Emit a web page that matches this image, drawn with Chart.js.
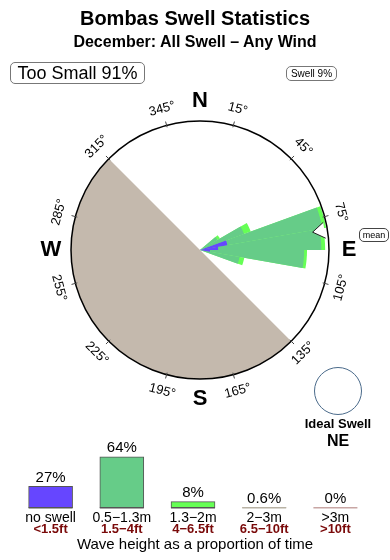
<!DOCTYPE html>
<html>
<head>
<meta charset="utf-8">
<title>Bombas Swell Statistics</title>
<script src="https://cdn.jsdelivr.net/npm/chart.js@4.4.0/dist/chart.umd.min.js"></script>
<style>
body { margin: 0; background: #fff; font-family: "Liberation Sans", Arial, sans-serif; color: #000; }
#wrap { position: relative; width: 390px; height: 560px; overflow: hidden; }
canvas { position: absolute; left: 0; }
.txt { position: absolute; left: 0; width: 390px; text-align: center; white-space: nowrap; }
.title { top: 8px; font-size: 20px; line-height: 20px; font-weight: bold; }
.sub { top: 34px; font-size: 16px; line-height: 16px; font-weight: bold; }
.box { position: absolute; border: 1px solid #777; border-radius: 5px; text-align: center; white-space: nowrap; box-sizing: border-box; }
#small { left: 10px; top: 62px; width: 135px; height: 22px; font-size: 18px; line-height: 20px; }
#swell { left: 286px; top: 66px; width: 51px; height: 15px; font-size: 10px; line-height: 13px; }
#mean { left: 359px; top: 228px; width: 30px; height: 14px; font-size: 9px; line-height: 12px; border-color: #444; }
#ideal { position: absolute; left: 314px; top: 367px; width: 48px; height: 48px; border: 1px solid #4a6a8a; border-radius: 50%; box-sizing: border-box; }
.ideal1 { left: 288px; width: 100px; top: 417px; font-size: 13px; line-height: 14px; font-weight: bold; }
.ideal2 { left: 288px; width: 100px; top: 433px; font-size: 16px; line-height: 16px; font-weight: bold; }
.foot { top: 536px; font-size: 15px; line-height: 16px; }
</style>
</head>
<body>
<div id="wrap">
  <canvas id="rose" width="390" height="560"></canvas>
  <canvas id="bars" width="390" height="124" style="top:436px"></canvas>
  <div class="txt title">Bombas Swell Statistics</div>
  <div class="txt sub">December: All Swell – Any Wind</div>
  <div class="box" id="small">Too Small 91%</div>
  <div class="box" id="swell">Swell 9%</div>
  <div class="box" id="mean">mean</div>
  <div id="ideal"></div>
  <div class="txt ideal1">Ideal Swell</div>
  <div class="txt ideal2">NE</div>
  <div class="txt foot">Wave height as a proportion of time</div>
</div>
<script>
// Swell rose: 10 degree direction bins, % of time per height class
const DIRECTIONS = [0, 10, 20, 30, 40, 50, 60, 70, 80, 90, 100, 110, 120, 130, 140, 150, 160, 170,
                    180, 190, 200, 210, 220, 230, 240, 250, 260, 270, 280, 290, 300, 310, 320, 330, 340, 350];
const ROSE_NO_SWELL = [0, 0, 0, 0, 0, 0, 0, 5.8, 3.8, 2.1, 0, 0, 0, 0, 0, 0, 0, 0,
                       0, 0, 0, 0, 0, 0, 0, 0, 0, 0, 0, 0, 0, 0, 0, 0, 0, 0];
const ROSE_SMALL =    [0, 0, 0, 0, 0, 4.2, 9.8, 20.2, 21.6, 19.7, 8.4, 0, 0, 0, 0, 0, 0, 0,
                       0, 0, 0, 0, 0, 0, 0, 0, 0, 0, 0, 0, 0, 0, 0, 0, 0, 0];
const ROSE_MEDIUM =   [0, 0, 0, 0, 0, 0.6, 1.5, 0.8, 0.8, 0.6, 1.0, 0, 0, 0, 0, 0, 0, 0,
                       0, 0, 0, 0, 0, 0, 0, 0, 0, 0, 0, 0, 0, 0, 0, 0, 0, 0];
const ROSE_MAX = 27;
const DEGREE_TICKS = [15, 45, 75, 105, 135, 165, 195, 225, 255, 285, 315, 345];
const COMPASS = [['N', 0], ['E', 90], ['S', 180], ['W', 270]];
const LAND_FROM = 135, LAND_TO = 315;
const MEAN_DIR = 81;

// Wave height distribution
const HEIGHT_M = ['no swell', '0.5\u22121.3m', '1.3\u22122m', '2\u22123m', '>3m'];
const HEIGHT_FT = ['<1.5ft', '1.5\u22124ft', '4\u22126.5ft', '6.5\u221210ft', '>10ft'];
const HEIGHT_PCT = [27, 64, 8, 0.6, 0];

const BLUE = '#6646ff', GREEN = '#66cc88', LIGHT = '#66ff55', LAND = '#c4b9ad';
const BAR_COLORS = [BLUE, GREEN, LIGHT, '#b8b2a4', '#c8a6a4'];
const BAR_EDGES = ['#555', '#555', '#555', '#b8b2a4', '#c8a6a4'];
const FONT = '"Liberation Sans", Arial, sans-serif';

function rad(deg) {
    return (deg - 90) * Math.PI / 180;
}

function stack(...rows) {
    return rows[0].map((_, i) => rows.reduce((s, r) => s + r[i], 0));
}

const roseDecor = {
    id: 'roseDecor',
    beforeDatasetsDraw(chart) {
        const s = chart.scales.r, ctx = chart.ctx;
        ctx.save();
        ctx.fillStyle = LAND;
        ctx.beginPath();
        ctx.moveTo(s.xCenter, s.yCenter);
        ctx.arc(s.xCenter, s.yCenter, s.drawingArea, rad(LAND_FROM), rad(LAND_TO));
        ctx.closePath();
        ctx.fill();
        ctx.restore();
    },
    afterDatasetsDraw(chart) {
        const s = chart.scales.r, ctx = chart.ctx;
        const cx = s.xCenter, cy = s.yCenter, R = s.drawingArea;
        const pt = (a, r) => [cx + r * Math.cos(rad(a)), cy + r * Math.sin(rad(a))];
        ctx.save();

        // mean direction arrow
        const m = rad(MEAN_DIR), px = -Math.sin(m), py = Math.cos(m);
        const tip = pt(MEAN_DIR, R - 15), base = pt(MEAN_DIR, R - 3);
        ctx.beginPath();
        ctx.moveTo(base[0] + px * 8, base[1] + py * 8);
        ctx.lineTo(tip[0], tip[1]);
        ctx.lineTo(base[0] - px * 8, base[1] - py * 8);
        ctx.closePath();
        ctx.fillStyle = '#fff';
        ctx.fill();
        ctx.beginPath();
        ctx.moveTo(base[0] + px * 8, base[1] + py * 8);
        ctx.lineTo(tip[0], tip[1]);
        ctx.lineTo(base[0] - px * 8, base[1] - py * 8);
        ctx.strokeStyle = '#222';
        ctx.lineWidth = 1;
        ctx.stroke();

        // outer ring
        ctx.beginPath();
        ctx.arc(cx, cy, R, 0, Math.PI * 2);
        ctx.lineWidth = 1.5;
        ctx.strokeStyle = '#000';
        ctx.stroke();

        // degree ticks and labels
        ctx.lineWidth = 1;
        ctx.strokeStyle = '#444';
        ctx.fillStyle = '#000';
        ctx.font = '13px ' + FONT;
        ctx.textAlign = 'center';
        ctx.textBaseline = 'middle';
        DEGREE_TICKS.forEach(a => {
            const p1 = pt(a, R - 2), p2 = pt(a, R + 4);
            ctx.beginPath();
            ctx.moveTo(p1[0], p1[1]);
            ctx.lineTo(p2[0], p2[1]);
            ctx.stroke();
            const p = pt(a, R + 17);
            const rot = (a > 90 && a < 270) ? a - 180 : a;
            ctx.save();
            ctx.translate(p[0], p[1]);
            ctx.rotate(rot * Math.PI / 180);
            ctx.fillText(a + '\u00b0', 0, 0);
            ctx.restore();
        });

        // compass letters
        ctx.font = 'bold 22px ' + FONT;
        COMPASS.forEach(([t, a]) => {
            const p = pt(a, R + 20);
            ctx.fillText(t, p[0], p[1]);
        });
        ctx.restore();
    }
};

new Chart(document.getElementById('rose'), {
    type: 'polarArea',
    data: {
        labels: DIRECTIONS.map(d => d + '\u00b0'),
        datasets: [
            { label: 'no swell', data: ROSE_NO_SWELL, backgroundColor: BLUE },
            { label: '0.5-1.3m', data: stack(ROSE_NO_SWELL, ROSE_SMALL), backgroundColor: GREEN },
            { label: '1.3-2m', data: stack(ROSE_NO_SWELL, ROSE_SMALL, ROSE_MEDIUM), backgroundColor: LIGHT }
        ]
    },
    options: {
        responsive: false,
        animation: false,
        events: [],
        layout: { padding: { left: 71, right: 61, top: 121, bottom: 181 } },
        elements: { arc: { borderWidth: 0 } },
        plugins: { legend: { display: false }, tooltip: { enabled: false } },
        scales: {
            r: {
                min: 0,
                max: ROSE_MAX,
                startAngle: 0,
                ticks: { display: false },
                grid: { display: false },
                angleLines: { display: false },
                pointLabels: { display: false }
            }
        }
    },
    plugins: [roseDecor]
});

const barText = {
    id: 'barText',
    afterDatasetsDraw(chart) {
        const ctx = chart.ctx, bars = chart.getDatasetMeta(0).data;
        const base = chart.scales.y.getPixelForValue(0);
        ctx.save();
        ctx.textAlign = 'center';
        ctx.textBaseline = 'middle';
        bars.forEach((b, i) => {
            ctx.fillStyle = BAR_EDGES[i];
            ctx.fillRect(b.x - b.width / 2, base - 1, b.width, 1.5);
            ctx.fillStyle = '#000';
            ctx.font = '15px ' + FONT;
            ctx.fillText(HEIGHT_PCT[i] + '%', b.x, b.y - 9);
            ctx.font = '14px ' + FONT;
            ctx.fillText(HEIGHT_M[i], b.x, base + 10);
            ctx.fillStyle = '#7a0a0a';
            ctx.font = 'bold 13px ' + FONT;
            ctx.fillText(HEIGHT_FT[i], b.x, base + 21.5);
        });
        ctx.restore();
    }
};

new Chart(document.getElementById('bars'), {
    type: 'bar',
    data: {
        labels: HEIGHT_M,
        datasets: [{
            data: HEIGHT_PCT,
            backgroundColor: BAR_COLORS,
            borderColor: BAR_EDGES,
            borderWidth: 1,
            barThickness: 44
        }]
    },
    options: {
        responsive: false,
        animation: false,
        events: [],
        layout: { padding: { left: 15, right: 19, top: 8, bottom: 52 } },
        plugins: { legend: { display: false }, tooltip: { enabled: false } },
        scales: {
            x: { display: false },
            y: { display: false, min: 0, max: 80 }
        }
    },
    plugins: [barText]
});
</script>
</body>
</html>
